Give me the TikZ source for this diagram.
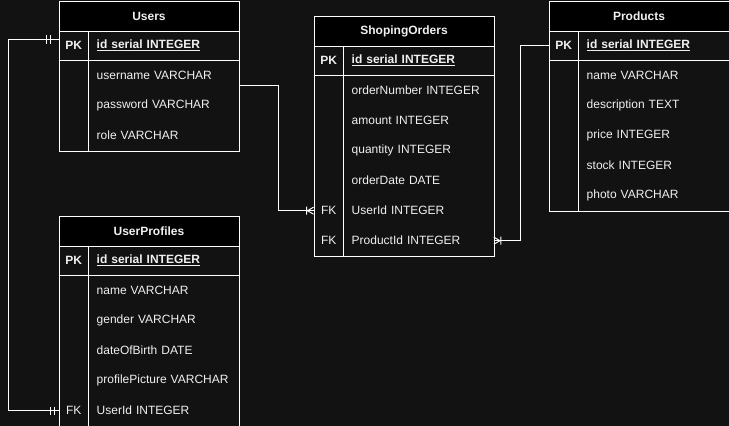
\documentclass[tikz,border=0pt]{standalone}
\usepackage{fontspec}
\setmainfont{Liberation Sans}
\definecolor{bgc}{HTML}{121212}
\definecolor{txc}{HTML}{F0F0F0}
\newcommand{\erfont}{\fontsize{12pt}{14pt}\selectfont}
\tikzset{
  tline/.style={draw=white, line width=1pt},
  tbl/.style={tline, fill=bgc, anchor=north west, minimum width=180pt, inner sep=0pt},
  hdr/.style={tline, fill=black, anchor=north west, minimum width=180pt, minimum height=30pt, inner sep=0pt, font=\erfont\bfseries, text=txc},
  keyc/.style={anchor=north west, minimum width=30pt, minimum height=30pt, inner sep=0pt, text=txc, font=\erfont},
  fld/.style={anchor=north west, minimum height=30pt, text width=134pt, inner xsep=8pt, inner ysep=0pt, align=left, text=txc, font=\erfont},
  boldc/.style={font=\erfont\bfseries},
  conn/.style={draw=white, line width=1pt},
}
\begin{document}
\begin{tikzpicture}[x=1pt,y=-1pt]
\useasboundingbox (0,0) rectangle (729,426);
\fill[bgc] (0,0) rectangle (729,426);

% ---------- Users ----------
\node[tbl, minimum height=150pt] (users) at (58.5,0.5) {};
\node[hdr] (usersh) at (58.5,0.5) {Users};
\node[keyc, boldc] (upkk) at (58.5,30.5) {PK};
\node[fld, boldc] (upk) at (88.5,30.5) {\underline{id serial INTEGER}};
\node[fld] (uf1) at (88.5,60.5) {username VARCHAR};
\node[fld] (uf2) at (88.5,90.5) {password VARCHAR};
\node[fld] (uf3) at (88.5,120.5) {role VARCHAR};
\draw[tline] (58.5,60.5) -- (238.5,60.5) (88.5,30.5) -- (88.5,150.5);

% ---------- ShopingOrders ----------
\node[tbl, minimum height=240pt] (orders) at (313.5,15.5) {};
\node[hdr] (ordersh) at (313.5,15.5) {ShopingOrders};
\node[keyc, boldc] (opkk) at (313.5,45.5) {PK};
\node[fld, boldc] (opk) at (343.5,45.5) {\underline{id serial INTEGER}};
\node[fld] (of1) at (343.5,75.5) {orderNumber INTEGER};
\node[fld] (of2) at (343.5,105.5) {amount INTEGER};
\node[fld] (of3) at (343.5,135.5) {quantity INTEGER};
\node[fld] (of4) at (343.5,165.5) {orderDate DATE};
\node[keyc] (ofk1) at (313.5,195.5) {FK};
\node[fld] (of5) at (343.5,195.5) {UserId INTEGER};
\node[keyc] (ofk2) at (313.5,225.5) {FK};
\node[fld] (of6) at (343.5,225.5) {ProductId INTEGER};
\draw[tline] (313.5,75.5) -- (493.5,75.5) (343.5,45.5) -- (343.5,255.5);

% ---------- Products ----------
\node[tbl, minimum height=210pt] (products) at (548.5,0.5) {};
\node[hdr] (productsh) at (548.5,0.5) {Products};
\node[keyc, boldc] (ppkk) at (548.5,30.5) {PK};
\node[fld, boldc] (ppk) at (578.5,30.5) {\underline{id serial INTEGER}};
\node[fld] (pf1) at (578.5,60.5) {name VARCHAR};
\node[fld] (pf2) at (578.5,90.5) {description TEXT};
\node[fld] (pf3) at (578.5,120.5) {price INTEGER};
\node[fld] (pf4) at (578.5,150.5) {stock INTEGER};
\node[fld] (pf5) at (578.5,180.5) {photo VARCHAR};
\draw[tline] (548.5,60.5) -- (728.5,60.5) (578.5,30.5) -- (578.5,210.5);

% ---------- UserProfiles ----------
\node[tbl, minimum height=210pt] (profiles) at (58.5,215.5) {};
\node[hdr] (profilesh) at (58.5,215.5) {UserProfiles};
\node[keyc, boldc] (rpkk) at (58.5,245.5) {PK};
\node[fld, boldc] (rpk) at (88.5,245.5) {\underline{id serial INTEGER}};
\node[fld] (rf1) at (88.5,275.5) {name VARCHAR};
\node[fld] (rf2) at (88.5,305.5) {gender VARCHAR};
\node[fld] (rf3) at (88.5,335.5) {dateOfBirth DATE};
\node[fld] (rf4) at (88.5,365.5) {profilePicture VARCHAR};
\node[keyc] (rfk) at (58.5,395.5) {FK};
\node[fld] (rf5) at (88.5,395.5) {UserId INTEGER};
\draw[tline] (58.5,275.5) -- (238.5,275.5) (88.5,245.5) -- (88.5,425.5);

% ---------- connectors ----------
% Users.id -> UserProfiles.UserId  (one and only one on both ends)
\coordinate (ua) at ([yshift=6pt]upkk.west);
\draw[conn] (ua) -- ++(-50,0) |- (rfk.west);
\draw[conn] (ua) ++(-12,-4.5) -- ++(0,9) (ua) ++(-8,-4.5) -- ++(0,9);
\draw[conn] (rfk.west) ++(-8,-4) -- ++(0,8) (rfk.west) ++(-4,-4) -- ++(0,8);

% Users -> ShopingOrders.UserId (one or many)
\coordinate (ub) at ([yshift=-10pt]uf1.east);
\draw[conn] (ub) -- ++(40,0) |- (ofk1.west);
\draw[conn] (ofk1.west) ++(-6,0) -- ++(6,-3.5) (ofk1.west) ++(-6,0) -- ++(6,3.5)
  (ofk1.west) ++(-7,-4) -- ++(0,8);

% ShopingOrders.ProductId -> Products.id (one or many at orders end)
\draw[conn] (of6.east) -- ++(27,0) |- (ppkk.west);
\draw[conn] (of6.east) ++(6,0) -- ++(-6,-3.5) (of6.east) ++(6,0) -- ++(-6,3.5)
  (of6.east) ++(7,-4) -- ++(0,8);
\end{tikzpicture}
\end{document}
